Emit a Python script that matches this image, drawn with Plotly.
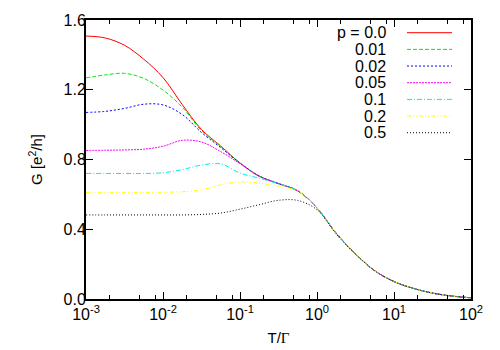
import plotly.graph_objects as go

# log10(T/Gamma) grid
logT = [-3.0, -2.75, -2.5, -2.25, -2.0, -1.75, -1.5, -1.25, -1.0, -0.75, -0.5,
        -0.25, 0.0, 0.25, 0.5, 0.75, 1.0, 1.25, 1.5, 1.75, 2.0]

p_labels = ["0.0", "0.01", "0.02", "0.05", "0.1", "0.2", "0.5"]

G_p000 = [1.508, 1.497, 1.455, 1.375, 1.270, 1.115, 0.972, 0.877, 0.780, 0.705, 0.662,
          0.620, 0.522, 0.377, 0.259, 0.162, 0.100, 0.061, 0.034, 0.017, 0.007]
G_p001 = [1.268, 1.285, 1.294, 1.265, 1.198, 1.100, 0.965, 0.874, 0.780, 0.705, 0.662,
          0.620, 0.522, 0.377, 0.259, 0.162, 0.100, 0.061, 0.034, 0.017, 0.007]
G_p002 = [1.070, 1.076, 1.093, 1.117, 1.113, 1.058, 0.955, 0.868, 0.779, 0.705, 0.662,
          0.620, 0.522, 0.377, 0.259, 0.162, 0.100, 0.061, 0.034, 0.017, 0.007]
G_p005 = [0.852, 0.853, 0.855, 0.859, 0.876, 0.910, 0.900, 0.845, 0.776, 0.703, 0.662,
          0.620, 0.522, 0.377, 0.259, 0.162, 0.100, 0.061, 0.034, 0.017, 0.007]
G_p010 = [0.720, 0.720, 0.720, 0.720, 0.724, 0.742, 0.768, 0.775, 0.722, 0.693, 0.660,
          0.619, 0.522, 0.377, 0.259, 0.162, 0.100, 0.061, 0.034, 0.017, 0.007]
G_p020 = [0.610, 0.610, 0.610, 0.611, 0.612, 0.615, 0.626, 0.655, 0.671, 0.664, 0.647,
          0.618, 0.521, 0.377, 0.259, 0.162, 0.100, 0.061, 0.034, 0.017, 0.007]
G_p050 = [0.482, 0.482, 0.482, 0.482, 0.482, 0.482, 0.485, 0.493, 0.515, 0.541, 0.566,
          0.565, 0.512, 0.372, 0.257, 0.162, 0.100, 0.061, 0.034, 0.017, 0.007]

series = [G_p000, G_p001, G_p002, G_p005, G_p010, G_p020, G_p050]

x_tickvals = [1e-3, 1e-2, 1e-1, 1e0, 1e1, 1e2]
x_ticktext = ["10<sup>-3</sup>", "10<sup>-2</sup>", "10<sup>-1</sup>",
              "10<sup>0</sup>", "10<sup>1</sup>", "10<sup>2</sup>"]
x_minor = [m * d for d in [1e-3, 1e-2, 1e-1, 1e0, 1e1] for m in (2, 5, 8)]
y_tickvals = [0.0, 0.4, 0.8, 1.2, 1.6]
y_ticktext = ["0.0", "0.4", "0.8", "1.2", "1.6"]

colors = ["#ff0000", "#00ee00", "#0000ff", "#ff00ff", "#00eeee", "#ffff00", "#000000"]
dashes = ["solid", "4px,2px", "2px,2px", "2px,1px", "5px,2px,1px,2px",
          "4px,2px,1px,2px,1px,2px", "1px,2px"]

T = [10 ** e for e in logT]

FONT = "Liberation Sans, Arial, sans-serif"

# page body has an 8px margin: figure is 492x342 placed at (8, 8)
OFF = 8
FW, FH = 500 - OFF, 350 - OFF
L, R, TOP, BOT = 86, 471, 20, 299   # plot area in window pixels
W, H = R - L, BOT - TOP

fig = go.Figure()
for lab, g, c, d in zip(p_labels, series, colors, dashes):
    fig.add_trace(go.Scatter(x=T, y=g, mode="lines", name="p = " + lab,
                             line=dict(color=c, width=1, dash=d, shape="spline", smoothing=1.0),
                             showlegend=False))

# gnuplot-style key: text on the left, line sample on the right
row0, drow = 32.7, 16.67
for i, (lab, c, d) in enumerate(zip(p_labels, colors, dashes)):
    py = row0 + i * drow
    yp = (BOT - py) / H
    txt = ("p = " + lab) if i == 0 else lab
    fig.add_annotation(x=(388 - L) / W, y=yp, xref="paper", yref="paper",
                       text=txt, showarrow=False, xanchor="right", yanchor="middle",
                       font=dict(family=FONT, size=16, color="black"))
    fig.add_shape(type="line", xref="paper", yref="paper",
                  x0=(407 - L) / W, x1=(452 - L) / W, y0=yp, y1=yp,
                  line=dict(color=c, width=1, dash=d))

axis_common = dict(showline=True, linecolor="black", linewidth=2, mirror="ticks",
                   ticks="inside", ticklen=7, tickwidth=1, tickcolor="black",
                   showgrid=False, zeroline=False, automargin=False,
                   tickfont=dict(family=FONT, size=16, color="black"))

fig.update_xaxes(type="log", range=[-3, 2], tickmode="array",
                 tickvals=x_tickvals, ticktext=x_ticktext,
                 minor=dict(tickmode="array", tickvals=x_minor, ticks="inside",
                            ticklen=4, tickwidth=1, tickcolor="black", showgrid=False),
                 title=dict(text='T/<span style="font-family:Liberation Serif">Γ</span>',
                            font=dict(family=FONT, size=15, color="black"), standoff=10),
                 **axis_common)
fig.update_yaxes(range=[0, 1.6], tickmode="array", tickvals=y_tickvals, ticktext=y_ticktext,
                 ticklabelstandoff=-5,
                 title=dict(text="G [e<sup>2</sup>/h]",
                            font=dict(family=FONT, size=15, color="black"), standoff=17),
                 **axis_common)

fig.update_layout(width=FW, height=FH, autosize=False,
                  margin=dict(l=L - OFF, r=500 - R, t=TOP - OFF, b=350 - BOT, pad=0),
                  paper_bgcolor="white", plot_bgcolor="white",
                  font=dict(family=FONT, size=15, color="black"))

fig.write_html("out.html")
